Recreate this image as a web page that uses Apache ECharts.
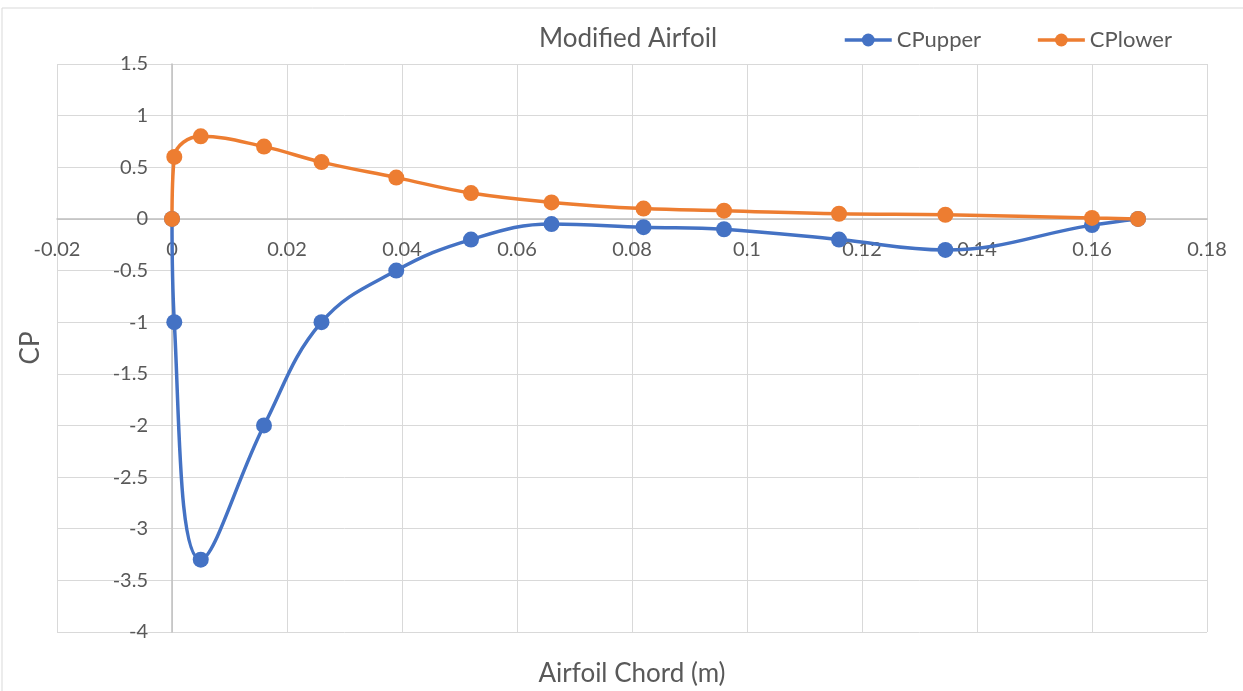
<!DOCTYPE html>
<html>
<head>
<meta charset="utf-8">
<script src="https://cdn.jsdelivr.net/npm/echarts@6/dist/echarts.min.js"></script>
<style>
  html, body { margin: 0; padding: 0; background: #fff; }
  #chart { width: 1243px; height: 691px; }
</style>
</head>
<body>
<div id="chart"></div>
<script>
// Chord positions (m) shared by both surfaces
const chordX = [0, 0.0004, 0.005, 0.016, 0.026, 0.039, 0.052, 0.066, 0.082, 0.096, 0.116, 0.1345, 0.16, 0.168];
// Pressure coefficients
const cpUpper = [0, -1, -3.3, -2, -1, -0.5, -0.2, -0.05, -0.08, -0.1, -0.2, -0.3, -0.06, 0];
const cpLower = [0, 0.6, 0.8, 0.7, 0.55, 0.4, 0.25, 0.16, 0.1, 0.08, 0.05, 0.04, 0.01, 0];

const seriesNames = ['CPupper', 'CPlower'];
const colors = ['#4472C4', '#ED7D31'];

const pair = (xs, ys) => xs.map((x, i) => [x, ys[i]]);

const font = 'Lato, "Open Sans", sans-serif';
const labelColor = '#595959';

// Plot box in pixels, and axis ranges; axes cross at the origin
const box = { left: 57, right: 36, top: 64, bottom: 59, width: 1243, height: 691 };
const xMin = -0.02, xMax = 0.18, yMin = -4, yMax = 1.5;
const plotW = box.width - box.left - box.right;
const plotH = box.height - box.top - box.bottom;
const xOffset = -plotH * (0 - yMin) / (yMax - yMin);   // lift x axis to y = 0
const yOffset = -plotW * (0 - xMin) / (xMax - xMin);   // shift y axis to x = 0

const chart = echarts.init(document.getElementById('chart'));
chart.setOption({
  animation: false,
  backgroundColor: '#fff',
  textStyle: { fontFamily: font },
  title: {
    text: 'Modified Airfoil',
    left: 623, top: 21, textAlign: 'center',
    textStyle: { fontFamily: font, fontSize: 26, fontWeight: 'normal', color: labelColor }
  },
  legend: {
    data: seriesNames,
    left: 838, top: 24,
    itemWidth: 47, itemHeight: 16, itemGap: 55,
    lineStyle: { width: 3.5 },
    textStyle: { fontFamily: font, fontSize: 22, color: labelColor }
  },
  graphic: [{
    type: 'rect', silent: true,
    shape: { x: 2, y: 8, width: 1280, height: 720 },
    style: { fill: 'none', stroke: '#d9d9d9', lineWidth: 1 }
  }],
  grid: { left: box.left, right: box.right, top: box.top, bottom: box.bottom, containLabel: false, outerBoundsMode: 'none' },
  xAxis: {
    type: 'value', min: xMin, max: xMax, interval: 0.02,
    position: 'bottom', offset: xOffset,
    name: 'Airfoil Chord (m)', nameLocation: 'middle', nameGap: 442,
    nameTextStyle: { fontFamily: font, fontSize: 26, color: labelColor },
    axisLine: { onZero: false, lineStyle: { color: '#bfbfbf', width: 1.5 } },
    axisTick: { show: false },
    axisLabel: { margin: 21, fontFamily: font, fontSize: 20, color: labelColor,
      formatter: v => String(Math.round(v * 100) / 100) },
    splitLine: { show: true, lineStyle: { color: '#d9d9d9', width: 1 } }
  },
  yAxis: {
    type: 'value', min: yMin, max: yMax, interval: 0.5,
    position: 'left', offset: yOffset,
    name: 'CP', nameLocation: 'middle', nameRotate: 90, nameGap: 128,
    nameTextStyle: { fontFamily: font, fontSize: 26, color: labelColor },
    axisLine: { onZero: false, lineStyle: { color: '#bfbfbf', width: 1.5 } },
    axisTick: { show: false },
    axisLabel: { margin: 24, fontFamily: font, fontSize: 20, color: labelColor },
    splitLine: { show: true, lineStyle: { color: '#d9d9d9', width: 1 } }
  },
  series: [
    {
      name: seriesNames[0], type: 'line', data: pair(chordX, cpUpper),
      smooth: 0.4, symbol: 'circle', symbolSize: 16,
      lineStyle: { color: colors[0], width: 3.5 },
      itemStyle: { color: colors[0] }
    },
    {
      name: seriesNames[1], type: 'line', data: pair(chordX, cpLower),
      smooth: 0.4, symbol: 'circle', symbolSize: 16,
      lineStyle: { color: colors[1], width: 3.5 },
      itemStyle: { color: colors[1] }
    }
  ]
});
</script>
</body>
</html>
